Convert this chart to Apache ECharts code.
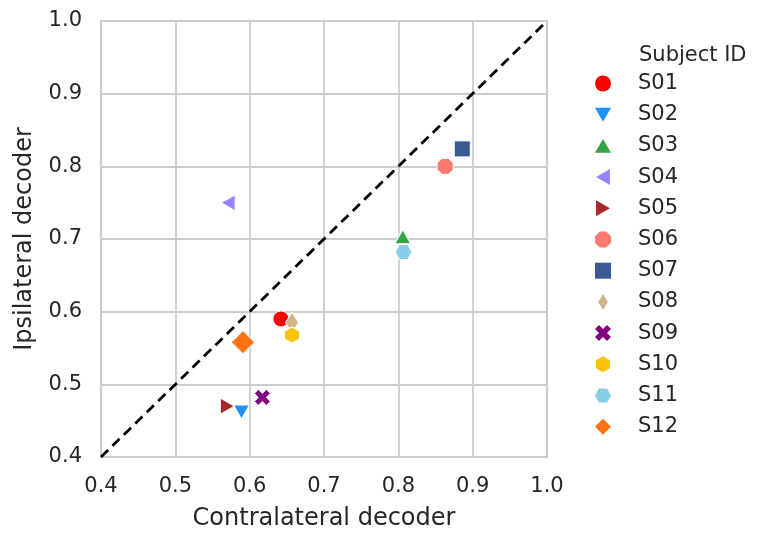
<!DOCTYPE html>
<html>
<head>
<meta charset="utf-8">
<script src="https://cdn.jsdelivr.net/npm/echarts@6/dist/echarts.min.js"></script>
<style>
  html, body { margin: 0; padding: 0; background: #fff; }
  #chart { width: 773px; height: 542px; }
</style>
</head>
<body>
<div id="chart"></div>
<script>
// 被试编号
let subjects = ["S01","S02","S03","S04","S05","S06","S07","S08","S09","S10","S11","S12"];
// 对侧解码器（x）
let contraValues = [0.642,0.589,0.806,0.571,0.570,0.863,0.886,0.657,0.617,0.657,0.807,0.591];
// 同侧解码器（y）
let ipsiValues = [0.590,0.462,0.703,0.750,0.470,0.800,0.824,0.585,0.482,0.568,0.682,0.558];
// 对角参考线
let diagX = [0.4, 1.0];
let diagY = [0.4, 1.0];
let tickLabels = ["0.4","0.5","0.6","0.7","0.8","0.9","1.0"];

let colors = ["#ff0000","#1e90ff","#33a544","#9386ff","#a52a2a","#fa7a70","#3a5a94","#d2b48c","#800080","#fbc20a","#87ceeb","#ff7212"];
// 标记形状（类似 seaborn 的默认标记）
let symbols = [
    "circle",
    "path://M0,0L2,0L1,1.732Z",
    "path://M1,0L2,1.732L0,1.732Z",
    "path://M0,1L1.732,0L1.732,2Z",
    "path://M0,0L1.732,1L0,2Z",
    "path://M0.586,0L1.414,0L2,0.586L2,1.414L1.414,2L0.586,2L0,1.414L0,0.586Z",
    "rect",
    "path://M3,0L6,5L3,10L0,5Z",
    "path://M1.5,0L3,1.5L4.5,0L6,1.5L4.5,3L6,4.5L4.5,6L3,4.5L1.5,6L0,4.5L1.5,3L0,1.5Z",
    "path://M0.866,0L1.732,0.5L1.732,1.5L0.866,2L0,1.5L0,0.5Z",
    "path://M0,0.866L0.5,0L1.5,0L2,0.866L1.5,1.732L0.5,1.732Z",
    "path://M1,0L2,1L1,2L0,1Z"
];
let sizes = [[16,16],[16,14],[16,14],[14,16],[14,16],[16,16],[16,16],[13,21],[16,16],[15,16],[17,15],[23,23]];

let fontName = "DejaVu Sans";
let series = [{
    type: "line",
    data: diagX.map(function (x, i) { return [x, diagY[i]]; }),
    symbol: "none",
    silent: true,
    lineStyle: { color: "#000000", width: 2.8, type: [10, 6] },
    z: 1
}];
for (let i = 0; i < subjects.length; i++) {
    series.push({
        name: subjects[i],
        type: "scatter",
        data: [[contraValues[i], ipsiValues[i]]],
        symbol: symbols[i],
        symbolSize: sizes[i],
        itemStyle: { color: colors[i], borderColor: "#ffffff", borderWidth: 1, opacity: 1 },
        z: 2 + i
    });
}

let axisCommon = {
    type: "value",
    min: 0.4,
    max: 1.0,
    interval: 0.1,
    nameLocation: "middle",
    nameTextStyle: { color: "#262626", fontSize: 24, fontFamily: fontName },
    axisLine: { show: true, lineStyle: { color: "#cccccc", width: 2 } },
    axisTick: { show: false },
    splitLine: { show: true, lineStyle: { color: "#cccccc", width: 1.8 } },
    axisLabel: {
        color: "#262626", fontSize: 21, fontFamily: fontName, margin: 19,
        formatter: function (v) { return tickLabels[Math.round((v - 0.4) * 10)]; }
    }
};

let option = {
    animation: false,
    backgroundColor: "#ffffff",
    title: {
        text: "Subject ID",
        left: 634,
        top: 40,
        textStyle: { color: "#262626", fontSize: 21, fontWeight: "normal", fontFamily: fontName }
    },
    grid: { left: 101, top: 21, right: 226, bottom: 85, show: true, borderColor: "#cccccc", borderWidth: 2 },
    xAxis: Object.assign({}, axisCommon, { name: "Contralateral decoder", nameGap: 50 }),
    yAxis: Object.assign({}, axisCommon, { name: "Ipsilateral decoder", nameGap: 64 }),
    legend: {
        orient: "vertical",
        left: 590,
        top: 68,
        itemWidth: 16,
        itemHeight: 16,
        itemGap: 10.2,
        symbolKeepAspect: true,
        itemStyle: { borderWidth: 0 },
        data: subjects,
        textStyle: { color: "#262626", fontSize: 21, fontFamily: fontName, padding: [0, 0, 0, 22] }
    },
    series: series
};

let myChart = echarts.init(document.getElementById("chart"));
myChart.setOption(option);
</script>
</body>
</html>
